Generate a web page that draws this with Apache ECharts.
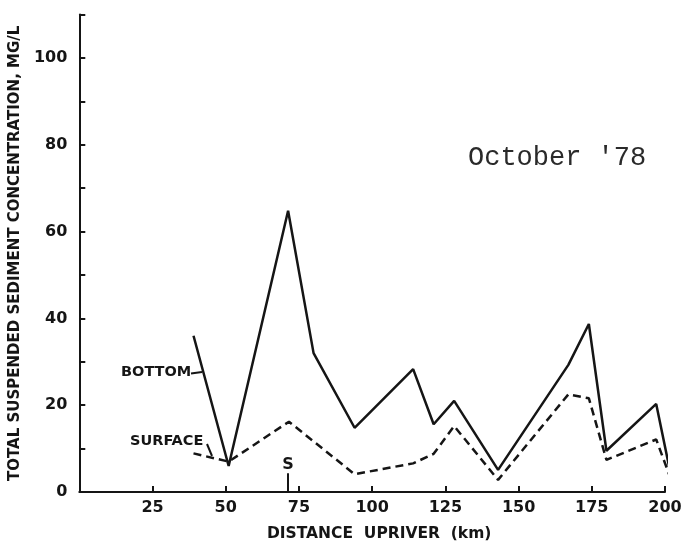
<!DOCTYPE html>
<html><head><meta charset="utf-8">
<script src="https://cdn.jsdelivr.net/npm/echarts@6/dist/echarts.min.js"></script>
<style>html,body{margin:0;padding:0;background:#fff}#c{width:689px;height:548px}</style>
</head><body><div id="c"></div>
<script>
// Data
const bottomKm  = [39, 51, 71.3, 80, 94, 114, 121, 128, 143, 167, 174, 180, 197, 201.5];
const bottomVal = [36, 6, 64.8, 32, 14.8, 28.3, 15.6, 21, 5.1, 29.3, 38.7, 9.5, 20.3, 5.5];
const surfaceKm  = [39, 51, 71.6, 94, 114, 121, 128, 143, 167, 174, 180, 197, 201.5];
const surfaceVal = [8.9, 7, 16.2, 4.1, 6.6, 8.8, 15.2, 2.8, 22.5, 21.6, 7.4, 12.1, 3.9];
const xTickLabels = [25, 50, 75, 100, 125, 150, 175, 200];
const yTickLabels = [0, 20, 40, 60, 80, 100];
const stationKm = 71.3;

const ink = '#151515';
const font = 'DejaVu Sans';
const chart = echarts.init(document.getElementById('c'), null, {renderer: 'canvas'});
chart.setOption({
  backgroundColor: '#fff',
  animation: false,
  grid: {left: 79, right: 24, top: 14.6, bottom: 56},
  xAxis: {
    type: 'value', min: 0, max: 200, interval: 25,
    name: 'DISTANCE  UPRIVER  (km)', nameLocation: 'middle', nameGap: 34,
    nameTextStyle: {fontFamily: font, fontWeight: 'bold', fontSize: 15.5, color: ink, padding: [0, 0, 0, 14]},
    axisLine: {lineStyle: {color: ink, width: 2}},
    axisTick: {inside: true, length: 6, lineStyle: {color: ink, width: 2}},
    axisLabel: {fontFamily: font, fontWeight: 'bold', fontSize: 16, color: ink, margin: 8,
      formatter: v => xTickLabels.includes(v) ? String(v) : ''},
    splitLine: {show: false}
  },
  yAxis: {
    type: 'value', min: 0, max: 110, interval: 10,
    name: 'TOTAL SUSPENDED SEDIMENT CONCENTRATION, MG/L', nameLocation: 'middle', nameGap: 48,
    nameTextStyle: {fontFamily: font, fontWeight: 'bold', fontSize: 15, color: ink, padding: [0, 0, 0, 0]},
    axisLine: {lineStyle: {color: ink, width: 2}},
    axisTick: {inside: true, length: 6, lineStyle: {color: ink, width: 2}},
    axisLabel: {fontFamily: font, fontWeight: 'bold', fontSize: 16, color: ink, margin: 12,
      formatter: v => yTickLabels.includes(v) ? String(v) : ''},
    splitLine: {show: false}
  },
  series: [
    {
      name: 'Bottom', type: 'line', clip: false, symbol: 'none',
      data: bottomKm.map((k, i) => [k, bottomVal[i]]),
      lineStyle: {color: ink, width: 2.5},
      markLine: {
        silent: true, symbol: 'none', animation: false,
        lineStyle: {color: ink, width: 2, type: 'solid'},
        label: {show: true, position: 'end', formatter: 'S', fontFamily: font, fontWeight: 'bold', fontSize: 16, color: ink, distance: 0},
        data: [[{coord: [stationKm, 0]}, {coord: [stationKm, 4.3]}]]
      }
    },
    {
      name: 'Surface', type: 'line', clip: false, symbol: 'none',
      data: surfaceKm.map((k, i) => [k, surfaceVal[i]]),
      lineStyle: {color: ink, width: 2.5, type: [8, 5]}
    }
  ],
  graphic: [
    {type: 'text', left: 468, top: 144, style: {text: "October '78", fontFamily: 'Liberation Mono', fontSize: 27, fill: '#2a2a2a'}},
    {type: 'text', left: 121, top: 365, style: {text: 'BOTTOM', fontFamily: font, fontWeight: 'bold', fontSize: 14.5, fill: ink}},
    {type: 'line', shape: {x1: 191, y1: 373.5, x2: 202, y2: 372}, style: {stroke: ink, lineWidth: 2}},
    {type: 'text', left: 130, top: 434, style: {text: 'SURFACE', fontFamily: font, fontWeight: 'bold', fontSize: 14.5, fill: ink}},
    {type: 'line', shape: {x1: 207, y1: 444, x2: 212, y2: 456}, style: {stroke: ink, lineWidth: 2}}
  ]
});
</script>
</body></html>
